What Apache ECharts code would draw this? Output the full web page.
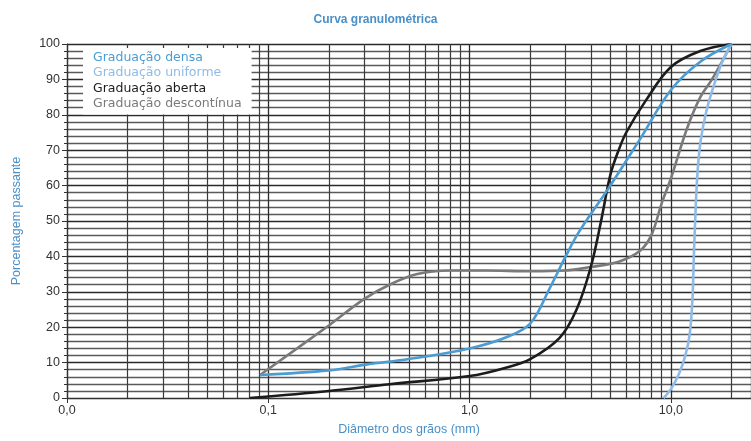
<!DOCTYPE html>
<html><head><meta charset="utf-8">
<script src="https://cdn.jsdelivr.net/npm/echarts@6/dist/echarts.min.js"></script>
<style>html,body{margin:0;padding:0;background:#fff}#c{width:751px;height:441px}</style>
</head><body><div id="c"></div>
<script>
// Diameter (mm), percent passing
const densa = [[0.091,6.5],[0.2,7.8],[0.31,9.5],[0.5,11],[1.0,14],[1.5,17],[2.0,21],[2.5,31],[3.0,40],[3.5,47],[5,60],[7,73],[10,87],[14,95],[20,100]];
const uniforme = [[9.2,0],[10,2.5],[11,7],[11.8,12],[12.4,18],[12.8,28],[13.0,40],[13.2,50],[13.5,62],[14,72],[15,81],[16.5,89],[18,95],[20,100]];
const aberta = [[0.081,0],[0.2,2],[0.4,3.9],[1,6.2],[1.5,8.5],[2,11],[2.8,17],[3.4,25],[4,37],[4.5,50],[5,63],[5.5,70],[6,75],[7.5,84],[10,93.5],[14,98],[20,100]];
const descontinua = [[0.091,6.5],[0.2,20.5],[0.3,28],[0.4,32],[0.55,35],[0.8,36],[1.2,36],[2,35.8],[3,36],[4,37],[5.5,38.5],[7,41.5],[8,46],[9,55],[10,62],[12,76],[14,85],[16,90],[20,100]];
const seriesNames = ['Graduação densa','Graduação uniforme','Graduação aberta','Graduação descontínua'];
const seriesColors = ['#4b9cd3','#8fbbe6','#1c1c1c','#7a7a7a'];
const decades = [0.01,0.1,1,10];
const minorMultipliers = [2,3,4,5,6,7,8,9];
const xTickLabels = {0.01:'0,0',0.1:'0,1',1:'1,0',10:'10,0'};

const minorLines = [];
decades.forEach(d => minorMultipliers.forEach(m => { const v = d*m; if (v <= 25) minorLines.push({xAxis: v}); }));

const chart = echarts.init(document.getElementById('c'));
const mk = (name, data, color, z) => ({
  name, type:'line', data, smooth:0.35, showSymbol:false, symbol:'none', z,
  lineStyle:{color, width:2.6}, itemStyle:{color}
});
chart.setOption({
  animation:false,
  title:{text:'Curva granulométrica', left:'center', top:9,
    textStyle:{fontFamily:'Liberation Sans Narrow, Liberation Sans, sans-serif', fontWeight:'bold', fontSize:12, color:'#4a90c8'}},
  legend:{
    orient:'vertical', left:83, top:48, backgroundColor:'#fff', padding:[3,10,4,5], z:20,
    itemGap:2.5, itemWidth:0, itemHeight:12, icon:'none',
    data: seriesNames.map((n,i)=>({name:n, textStyle:{color:seriesColors[i]}})),
    textStyle:{fontFamily:'DejaVu Sans, sans-serif', fontSize:12.5, padding:[0,0,0,0]}
  },
  grid:{left:67, right:0, top:44, bottom:39, containLabel:false},
  xAxis:{
    type:'log', logBase:10, min:0.01, max:25,
    name:'Diâmetro dos grãos (mm)', nameLocation:'middle', nameGap:25,
    nameTextStyle:{fontFamily:'Liberation Sans Narrow, Liberation Sans, sans-serif', fontSize:12.5, color:'#4a90c8'},
    axisLine:{show:true, lineStyle:{color:'#333', width:1.2}},
    axisTick:{show:true, length:5, lineStyle:{color:'#333'}},
    axisLabel:{showMaxLabel:false, color:'#333', fontFamily:'Liberation Sans, sans-serif', fontSize:12.5, margin:6,
      formatter: v => { for (const k in xTickLabels) { if (Math.abs(Math.log10(v) - Math.log10(+k)) < 1e-6) return xTickLabels[k]; } return ''; }},
    splitLine:{show:true, lineStyle:{color:'#2a2a2a', width:1.3}}
  },
  yAxis:{
    type:'value', min:0, max:100, interval:10,
    name:'Porcentagem passante', nameLocation:'middle', nameGap:44,
    nameTextStyle:{fontFamily:'Liberation Sans Narrow, Liberation Sans, sans-serif', fontSize:12.5, color:'#4a90c8'},
    axisLine:{show:true, lineStyle:{color:'#333', width:1.2}},
    axisTick:{show:true, length:5, lineStyle:{color:'#333'}},
    minorTick:{show:true, splitNumber:5, length:3, lineStyle:{color:'#333'}},
    axisLabel:{color:'#333', fontFamily:'Liberation Sans, sans-serif', fontSize:12.5, margin:7},
    splitLine:{show:true, lineStyle:{color:'#2a2a2a', width:1.3}},
    minorSplitLine:{show:true, lineStyle:{color:'#5a5a5a', width:1.3}}
  },
  series:[
    {type:'line', data:[], silent:true, z:1,
      markLine:{silent:true, symbol:['none','none'], label:{show:false}, animation:false, z:1,
        lineStyle:{type:'solid', color:'#3a3a3a', width:1.2}, emphasis:{disabled:true}, data:minorLines}},
    mk(seriesNames[3], descontinua, seriesColors[3], 3),
    mk(seriesNames[2], aberta, seriesColors[2], 4),
    mk(seriesNames[1], uniforme, seriesColors[1], 5),
    mk(seriesNames[0], densa, seriesColors[0], 6)
  ]
});
</script></body></html>
